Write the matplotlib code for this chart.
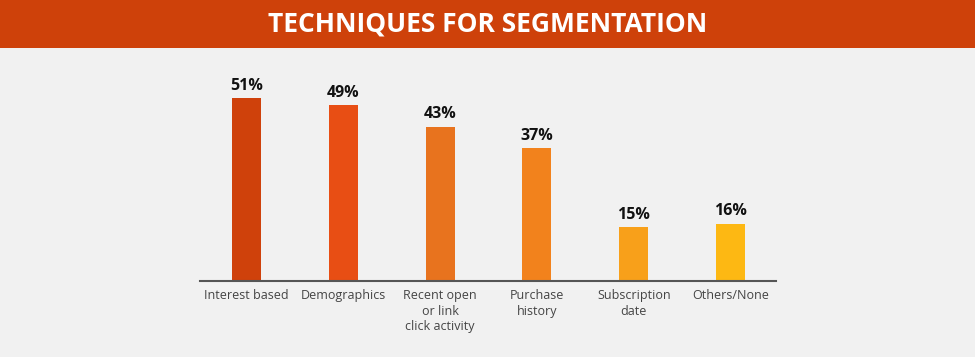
import matplotlib.pyplot as plt
from matplotlib.patches import Rectangle

categories = ['Interest based', 'Demographics', 'Recent open\nor link\nclick activity',
              'Purchase\nhistory', 'Subscription\ndate', 'Others/None']
values = [51, 49, 43, 37, 15, 16]
colors = ['#CF410B', '#E84E14', '#E8731E', '#F2821C', '#F8A01A', '#FDB813']

fig = plt.figure(figsize=(9.75, 3.57), dpi=100, facecolor='#F1F1F1')

# Header band
fig.patches.append(Rectangle((0, 1 - 48 / 357), 1, 48 / 357, transform=fig.transFigure,
                             facecolor='#CE410A', edgecolor='none', zorder=0))
fig.text(0.5, 1 - 24 / 357, 'TECHNIQUES FOR SEGMENTATION', ha='center', va='center',
         color='white', fontsize=19, fontweight='bold', family='Open Sans')

ax = fig.add_axes([200 / 975, 76 / 357, 576 / 975, 221 / 357])
ax.set_facecolor('#F1F1F1')
x = range(len(values))
bars = ax.bar(x, values, width=0.3, color=colors, zorder=2)
for xi, v in zip(x, values):
    ax.text(xi, v + 1.2, f'{v}%', ha='center', va='bottom', fontsize=11.5,
            fontweight='bold', family='Open Sans', color='#111111')

ax.set_xlim(-0.48, 5.47)
ax.set_ylim(0, 61.6)
ax.set_xticks(list(x))
ax.set_xticklabels(categories, fontsize=9, family='Open Sans', color='#444444',
                   linespacing=1.25)
ax.tick_params(axis='x', length=0, pad=6)
ax.set_yticks([])
for s in ['top', 'right', 'left']:
    ax.spines[s].set_visible(False)
ax.spines['bottom'].set_color('#555555')
ax.spines['bottom'].set_linewidth(1.5)

fig.savefig('out.png', dpi=100, facecolor=fig.get_facecolor())
